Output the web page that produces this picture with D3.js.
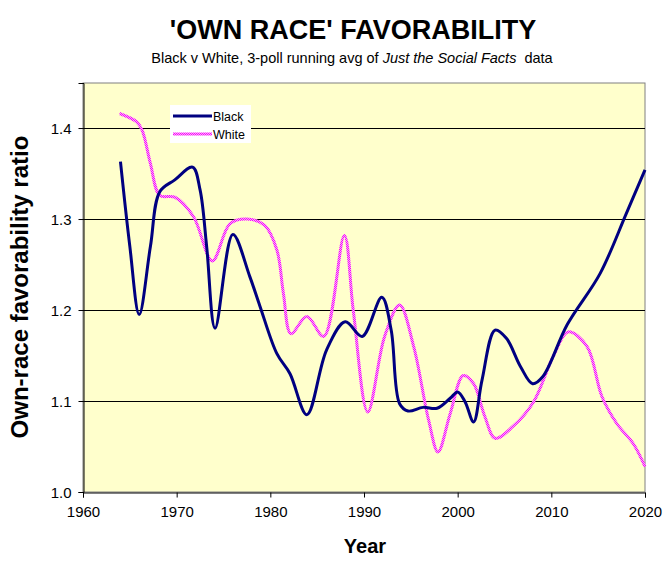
<!DOCTYPE html>
<html>
<head>
<meta charset="utf-8">
<script src="https://cdn.jsdelivr.net/npm/d3@7"></script>
<style>
  html, body { margin: 0; padding: 0; background: #fff; overflow: hidden; }
  svg { display: block; overflow: visible; font-family: Arial, "Liberation Sans", sans-serif; }
</style>
</head>
<body>
<div class="canvas"></div>
<script>
// values
const blackYears = [1964, 1965, 1966, 1967.2, 1968.2, 1969.8, 1971.7, 1972.5, 1973.2, 1974.1,
  1976, 1977.8, 1978.9, 1980.7, 1982.1, 1983.9, 1986, 1988, 1989.8, 1991.9, 1992.9, 1993.8,
  1994.7, 1996.3, 1997.8, 1999.2, 2000, 2000.8, 2001.7, 2002.6, 2004, 2005.2, 2006.7, 2008,
  2009.1, 2011.7, 2015.2, 2018, 2020];
const blackValues = [1.363, 1.27, 1.195, 1.27, 1.33, 1.343, 1.357, 1.332, 1.27, 1.18,
  1.283, 1.237, 1.204, 1.152, 1.13, 1.085, 1.156, 1.187, 1.171, 1.214, 1.178, 1.097,
  1.089, 1.093, 1.092, 1.103, 1.11, 1.099, 1.077, 1.123, 1.178, 1.169, 1.138, 1.119,
  1.127, 1.184, 1.24, 1.306, 1.354];

const whiteYears = [1963.9, 1965.7, 1966.3, 1967.2, 1968.2, 1969.8, 1971.8, 1973.8, 1975.7,
  1977.5, 1979.4, 1980.7, 1981.4, 1982.2, 1983.9, 1985.7, 1987.9, 1988.85, 1990.4, 1992.2,
  1993.8, 1995.3, 1996.9, 1997.9, 1999.2, 2000.6, 2001.7, 2002.9, 2004, 2005.9, 2008.1,
  2010.2, 2011.8, 2013.8, 2015.4, 2017, 2018.75, 2020];
const whiteValues = [1.416, 1.407, 1.398, 1.361, 1.326, 1.324, 1.3025, 1.254, 1.295,
  1.3, 1.293, 1.266, 1.218, 1.174, 1.193, 1.171, 1.282, 1.2, 1.088, 1.171,
  1.2055, 1.16, 1.079, 1.044, 1.086, 1.128, 1.119, 1.083, 1.059, 1.072, 1.099,
  1.149, 1.176, 1.16, 1.105, 1.075, 1.053, 1.028];

const xTicks = [1960, 1970, 1980, 1990, 2000, 2010, 2020];
const yTicks = [1.0, 1.1, 1.2, 1.3, 1.4];

const width = 667;
const height = 568;
const margin = { top: 83, right: 22, bottom: 76, left: 83 };
const innerWidth = width - margin.left - margin.right;
const innerHeight = height - margin.top - margin.bottom;

const x = d3.scaleLinear().domain([1960, 2020]).range([0, innerWidth]);
const y = d3.scaleLinear().domain([1.0, 1.4495]).range([innerHeight, 0]);

const svg = d3.select(".canvas").append("svg")
  .attr("width", width)
  .attr("height", height)
  .attr("viewBox", `0 0 ${width} ${height}`);

// dithered magenta like the original
const defs = svg.append("defs");
const pat = defs.append("pattern")
  .attr("id", "dither")
  .attr("patternUnits", "userSpaceOnUse")
  .attr("width", 2)
  .attr("height", 2);
pat.append("rect").attr("width", 2).attr("height", 2).attr("fill", "#f4b4f4");
pat.append("rect").attr("width", 1).attr("height", 1).attr("fill", "#ff00ff");
pat.append("rect").attr("x", 1).attr("y", 1).attr("width", 1).attr("height", 1).attr("fill", "#ff00ff");

svg.append("text")
  .attr("x", 353).attr("y", 39)
  .attr("text-anchor", "middle")
  .attr("font-size", 27).attr("font-weight", "bold")
  .text("'OWN RACE' FAVORABILITY");

const sub = svg.append("text")
  .attr("x", 352).attr("y", 63)
  .attr("text-anchor", "middle")
  .attr("font-size", 14.5);
sub.append("tspan").text("Black v White, 3-poll running avg of ");
sub.append("tspan").attr("font-style", "italic").text("Just the Social Facts");
sub.append("tspan").text("\u00a0 data");

const chart = svg.append("g").attr("transform", `translate(${margin.left},${margin.top})`);

chart.append("rect")
  .attr("width", innerWidth).attr("height", innerHeight)
  .attr("fill", "#ffffcc")
  .attr("stroke", "#808080");

chart.selectAll(".grid")
  .data(yTicks.slice(1))
  .enter().append("line")
  .attr("class", "grid")
  .attr("x1", 0).attr("x2", innerWidth)
  .attr("y1", (d) => Math.round(y(d)) + 0.5)
  .attr("y2", (d) => Math.round(y(d)) + 0.5)
  .attr("stroke", "#000");

const xAxis = chart.append("g")
  .attr("transform", `translate(0,${innerHeight + 0.5})`)
  .call(d3.axisBottom(x).tickValues(xTicks).tickFormat(d3.format("d")).tickSize(5).tickPadding(9));
const yAxis = chart.append("g")
  .attr("transform", "translate(0.5,0)")
  .call(d3.axisLeft(y).tickValues(yTicks).tickFormat(d3.format(".1f")).tickSize(5).tickPadding(7));

[xAxis, yAxis].forEach((a) => {
  a.select(".domain").attr("stroke", "#000");
  a.selectAll("text").attr("font-size", 15).attr("font-family", "Arial, 'Liberation Sans', sans-serif").attr("fill", "#000");
});
yAxis.selectAll("text").attr("dy", "0.35em");

const line = d3.line()
  .x((d) => x(d[0]))
  .y((d) => y(d[1]))
  .curve(d3.curveCatmullRom.alpha(0.5));

chart.append("path")
  .datum(whiteYears.map((yr, i) => [yr, whiteValues[i]]))
  .attr("fill", "none")
  .attr("stroke", "url(#dither)")
  .attr("stroke-width", 3)
  .attr("d", line);

chart.append("path")
  .datum(blackYears.map((yr, i) => [yr, blackValues[i]]))
  .attr("fill", "none")
  .attr("stroke", "#000080")
  .attr("stroke-width", 3)
  .attr("d", line);

// legend
const legend = svg.append("g").attr("transform", "translate(170,105)");
legend.append("rect").attr("width", 81).attr("height", 38).attr("fill", "#fff");
const items = [["Black", "#000080", 11], ["White", "url(#dither)", 29]];
items.forEach(([name, color, ly]) => {
  legend.append("line")
    .attr("x1", 3).attr("x2", 42)
    .attr("y1", ly).attr("y2", ly)
    .attr("stroke", color).attr("stroke-width", 3);
  legend.append("text")
    .attr("x", 43).attr("y", ly + 4.5)
    .attr("font-size", 12.5)
    .text(name);
});

svg.append("text")
  .attr("transform", "translate(28,287) rotate(-90)")
  .attr("text-anchor", "middle")
  .attr("font-size", 24).attr("font-weight", "bold")
  .text("Own-race favorability ratio");

svg.append("text")
  .attr("x", 365).attr("y", 553)
  .attr("text-anchor", "middle")
  .attr("font-size", 20).attr("font-weight", "bold")
  .text("Year");
</script>
</body>
</html>
